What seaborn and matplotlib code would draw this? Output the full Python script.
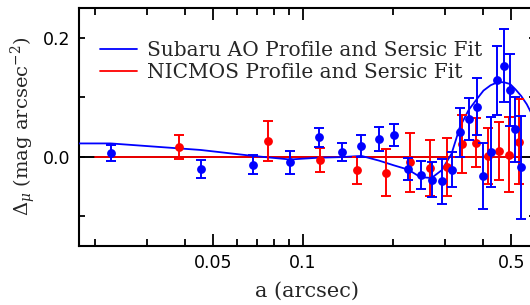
import matplotlib
matplotlib.use("Agg")
import matplotlib.pyplot as plt
from matplotlib.ticker import FixedLocator, NullFormatter
from matplotlib.lines import Line2D
import seaborn as sns

# ---- data ----
subaru_a = [0.0226, 0.0453, 0.0678, 0.0904, 0.113, 0.135, 0.157, 0.180, 0.202, 0.225,
            0.248, 0.270, 0.292, 0.315, 0.336, 0.359, 0.382, 0.403, 0.426, 0.449,
            0.472, 0.495, 0.516, 0.539]
subaru_d = [0.006, -0.021, -0.014, -0.010, 0.032, 0.008, 0.018, 0.029, 0.036, -0.021,
            -0.031, -0.039, -0.042, -0.022, 0.041, 0.063, 0.084, -0.033, 0.007, 0.128,
            0.153, 0.112, 0.046, -0.018]
subaru_err = [0.013, 0.015, 0.016, 0.019, 0.016, 0.015, 0.019, 0.020, 0.018, 0.018,
              0.024, 0.029, 0.038, 0.030, 0.041, 0.035, 0.048, 0.056, 0.059, 0.058,
              0.062, 0.061, 0.055, 0.087]

nicmos_a = [0.0383, 0.0763, 0.114, 0.152, 0.190, 0.228, 0.266, 0.305, 0.342, 0.380,
            0.417, 0.455, 0.491, 0.530]
nicmos_d = [0.016, 0.026, -0.006, -0.023, -0.027, -0.010, -0.019, -0.018, 0.021, 0.023,
            0.001, 0.009, 0.003, 0.025]
nicmos_err = [0.020, 0.033, 0.020, 0.023, 0.040, 0.050, 0.047, 0.049, 0.049, 0.041,
              0.047, 0.049, 0.063, 0.072]

subaru_fit_a = [0.0165, 0.0226, 0.0453, 0.0678, 0.0904, 0.113, 0.135, 0.157, 0.180, 0.202,
                0.225, 0.248, 0.270, 0.292, 0.315, 0.336, 0.359, 0.382, 0.403, 0.426,
                0.449, 0.472, 0.495, 0.516, 0.539, 0.563, 0.590]
subaru_fit_d = [0.022, 0.022, 0.011, 0.001, -0.005, -0.002, -0.001, 0.001, -0.007, -0.015,
                -0.022, -0.035, -0.036, -0.023, 0.005, 0.050, 0.078, 0.096, 0.111, 0.120,
                0.125, 0.125, 0.122, 0.113, 0.102, 0.088, 0.068]

nicmos_fit_a = [0.0200, 0.533]
nicmos_fit_d = [0.0, 0.0]

legend_labels = ["Subaru AO Profile and Sersic Fit", "NICMOS Profile and Sersic Fit"]
xtick_major = [0.05, 0.1, 0.5]
xtick_labels = ["0.05", "0.1", "0.5"]
xtick_minor = [0.02, 0.03, 0.04, 0.06, 0.07, 0.08, 0.09, 0.2, 0.3, 0.4, 0.6]
ytick_major = [0.0, 0.2]
ytick_labels = ["0.0", "0.2"]
ytick_minor = [-0.1, 0.1]

# ---- style ----
sns.set_theme(style="ticks")
plt.rcParams["font.family"] = ["DejaVu Sans"]
plt.rcParams["mathtext.fontset"] = "dejavuserif"

legend_font = {"family": ["DejaVu Serif"], "size": 14.5}
xlabel_font = {"family": ["DejaVu Serif"], "size": 15}
ylabel_font = {"family": ["DejaVu Serif"], "size": 14}

fig = plt.figure(figsize=(5.3, 3.05), dpi=100)
ax = fig.add_axes([79 / 530, 1 - 245.6 / 305, (535 - 79) / 530, (245.6 - 8) / 305])

ax.set_xscale("log")

ax.axhline(0, color="black", lw=1.4, zorder=1)

sns.lineplot(x=nicmos_fit_a, y=nicmos_fit_d, color="red", lw=1.3, ax=ax,
             estimator=None, sort=False, zorder=2)
sns.lineplot(x=subaru_fit_a, y=subaru_fit_d, color="blue", lw=1.3, ax=ax,
             estimator=None, sort=False, zorder=3)

ax.errorbar(nicmos_a, nicmos_d, yerr=nicmos_err, fmt="o", color="red", ms=5.3,
            elinewidth=1.4, capsize=3.4, capthick=1.4, zorder=4)
ax.errorbar(subaru_a, subaru_d, yerr=subaru_err, fmt="o", color="blue", ms=5.3,
            elinewidth=1.4, capsize=3.4, capthick=1.4, zorder=5)

ax.set_xlim(0.0177, 0.6)
ax.set_ylim(-0.15, 0.25)

ax.xaxis.set_major_locator(FixedLocator(xtick_major))
ax.set_xticklabels(xtick_labels)
ax.xaxis.set_minor_locator(FixedLocator(xtick_minor))
ax.xaxis.set_minor_formatter(NullFormatter())
ax.yaxis.set_major_locator(FixedLocator(ytick_major))
ax.set_yticklabels(ytick_labels)
ax.yaxis.set_minor_locator(FixedLocator(ytick_minor))

ax.tick_params(which="both", direction="in", top=True, right=True,
               color="black", width=1.3, labelsize=12.5, labelcolor="black")
ax.tick_params(axis="x", which="major", length=8.5, pad=6)
ax.tick_params(axis="x", which="minor", length=5)
ax.tick_params(axis="y", which="both", length=4.5, pad=6)

for s in ax.spines.values():
    s.set_linewidth(1.5)
    s.set_color("black")

ax.set_xlabel("a (arcsec)", fontdict=xlabel_font, labelpad=7)
ax.set_ylabel(r"$\Delta_{\mu}$ (mag arcsec$^{-2}$)", fontdict=ylabel_font, labelpad=3.5)

handles = [Line2D([], [], color="blue", lw=1.3), Line2D([], [], color="red", lw=1.3)]
ax.legend(handles, legend_labels, loc="upper left",
          bbox_to_anchor=(100 / 530, 1 - 41 / 305), bbox_transform=fig.transFigure,
          frameon=False, borderpad=0, borderaxespad=0, handlelength=1.84,
          handletextpad=0.5, labelspacing=0.17, prop=legend_font)

fig.savefig("out.png", dpi=100)
